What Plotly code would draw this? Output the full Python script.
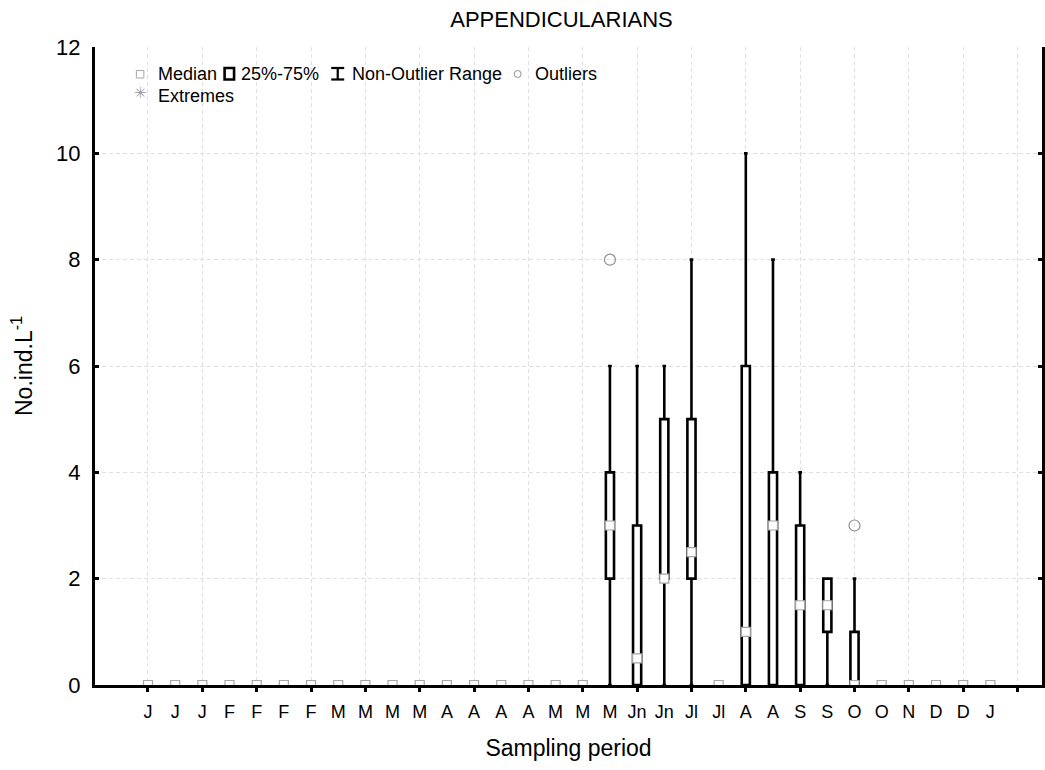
import plotly.graph_objects as go

# ---------------- data ----------------
periods = ["J", "J", "J", "F", "F", "F", "F", "M", "M", "M", "M", "A", "A", "A", "A",
           "M", "M", "M", "Jn", "Jn", "Jl", "Jl", "A", "A", "S", "S", "O", "O", "N", "D", "D", "J"]
medians = [0, 0, 0, 0, 0, 0, 0, 0, 0, 0, 0, 0, 0, 0, 0, 0, 0,
           3, 0.5, 2, 2.5, 0, 1, 3, 1.5, 1.5, 0, 0, 0, 0, 0, 0]
q1 = [None] * 17 + [2, 0, 2, 2, None, 0, 0, 0, 1, 0] + [None] * 5
q3 = [None] * 17 + [4, 3, 5, 5, None, 6, 4, 3, 2, 1] + [None] * 5
whisker_low = [None] * 17 + [0, 0, 0, 0, None, 0, 0, 0, 0, 0] + [None] * 5
whisker_high = [None] * 17 + [6, 6, 6, 8, None, 10, 8, 4, 2, 2] + [None] * 5
outlier_idx = [17, 26]
outlier_val = [8, 3]

FONT = "Liberation Sans, Arial, sans-serif"
GRID = "#e0e0e0"

# ---------------- layout geometry ----------------
W, H = 1045, 770
L, R, T, B = 95, 0, 47, 85
PW, PH = W - L - R, H - T - B
XR = [-1.95, 32.9]


def px(x):
    return (x - L) / PW


def py(y):
    return (T + PH - y) / PH


idx = list(range(len(periods)))
box_x = [i for i in idx if q1[i] is not None]

fig = go.Figure()

fig.add_trace(go.Box(
    x=box_x,
    q1=[q1[i] for i in box_x],
    median=[medians[i] for i in box_x],
    q3=[q3[i] for i in box_x],
    lowerfence=[whisker_low[i] for i in box_x],
    upperfence=[whisker_high[i] for i in box_x],
    width=0.3,
    whiskerwidth=0.45,
    line=dict(color="black", width=2.6),
    fillcolor="white",
    boxpoints=False,
    showlegend=False,
    hoverinfo="skip",
))

fig.add_trace(go.Scatter(
    x=idx, y=medians, mode="markers",
    marker=dict(symbol="square", size=9, color="white",
                line=dict(color="#a6a6a6", width=1.2)),
    showlegend=False, hoverinfo="skip",
))

fig.add_trace(go.Scatter(
    x=outlier_idx, y=outlier_val, mode="markers",
    marker=dict(symbol="circle-open", size=11, color="#8f8f8f",
                line=dict(width=1.2)),
    showlegend=False, hoverinfo="skip",
))

even_ticks = list(range(0, 33, 2))

fig.update_layout(
    width=W, height=H,
    margin=dict(l=L, r=R, t=T, b=B, pad=0),
    paper_bgcolor="white", plot_bgcolor="white",
    font=dict(family=FONT, color="black"),
    title=dict(text="APPENDICULARIANS", font=dict(size=22, family=FONT, color="black"),
               x=px(563), xanchor="center", xref="paper",
               y=1 - 19 / H, yanchor="middle", yref="container"),
    xaxis=dict(
        range=XR, tickmode="array", tickvals=idx, ticktext=periods,
        ticks="", showgrid=False, zeroline=False,
        showline=True, linecolor="black", linewidth=3,
        tickfont=dict(size=18, family=FONT, color="black"),
        ticklabelstandoff=8,
        minor=dict(tickmode="array", tickvals=even_ticks, ticks="outside",
                   ticklen=4, tickwidth=2.5, tickcolor="black",
                   showgrid=True, gridcolor=GRID, griddash="4px,3px", gridwidth=1),
        title=dict(text="Sampling period", font=dict(size=23, family=FONT, color="black"),
                   standoff=20),
    ),
    xaxis2=dict(
        range=XR, overlaying="x", side="top", anchor="y",
        tickmode="array", tickvals=even_ticks, ticks="inside",
        ticklen=4, tickwidth=2.5, tickcolor="black",
        showticklabels=False, showgrid=False, zeroline=False,
        showline=True, linecolor="black", linewidth=3,
    ),
    yaxis=dict(
        range=[0, 12], tickmode="array", tickvals=list(range(0, 13, 2)),
        ticks="inside", ticklen=4, tickwidth=2.5, tickcolor="black",
        mirror="ticks", showline=True, linecolor="black", linewidth=3,
        showgrid=True, gridcolor=GRID, griddash="4px,3px", gridwidth=1,
        zeroline=False,
        tickfont=dict(size=22, family=FONT, color="black"),
        ticklabelstandoff=7,
        title=dict(text="No.ind.L<sup>-1</sup>", font=dict(size=23, family=FONT, color="black"),
                   standoff=18),
    ),
    showlegend=False,
)

# ---------------- legend (drawn inside the plot, STATISTICA style) ----------------
shapes = []
# median swatch
shapes.append(dict(type="rect", xref="paper", yref="paper",
                   x0=px(136.5), x1=px(144), y0=py(78), y1=py(70.5),
                   line=dict(color="#a6a6a6", width=1), fillcolor="white"))
# 25%-75% swatch
shapes.append(dict(type="rect", xref="paper", yref="paper",
                   x0=px(225), x1=px(234.5), y0=py(79.5), y1=py(68),
                   line=dict(color="black", width=2.6), fillcolor="white"))
# non-outlier range swatch (I-beam)
for (xa, ya, xb, yb) in [(338.5, 68, 338.5, 79.5), (332, 68, 345, 68), (332, 79.5, 345, 79.5)]:
    shapes.append(dict(type="line", xref="paper", yref="paper",
                       x0=px(xa), y0=py(ya), x1=px(xb), y1=py(yb),
                       line=dict(color="black", width=2.2)))
# outlier swatch
shapes.append(dict(type="circle", xref="paper", yref="paper",
                   x0=px(515.5), x1=px(522.5), y0=py(77.5), y1=py(70.5),
                   line=dict(color="#8f8f8f", width=1)))

annotations = []
for text, x, y in [("Median", 156, 74), ("25%-75%", 239, 74), ("Non-Outlier Range", 351, 74),
                   ("Outliers", 534, 74), ("Extremes", 156, 96)]:
    annotations.append(dict(text=text, xref="paper", yref="paper", x=px(x), y=py(y),
                            xanchor="left", yanchor="middle", showarrow=False,
                            font=dict(size=18, family=FONT, color="black")))
annotations.append(dict(text="✳", xref="paper", yref="paper", x=px(140.5), y=py(93),
                        xanchor="center", yanchor="middle", showarrow=False,
                        font=dict(size=15, family="DejaVu Sans", color="#9a9a9a")))

fig.update_layout(shapes=shapes, annotations=annotations)

fig.write_html("out.html")
